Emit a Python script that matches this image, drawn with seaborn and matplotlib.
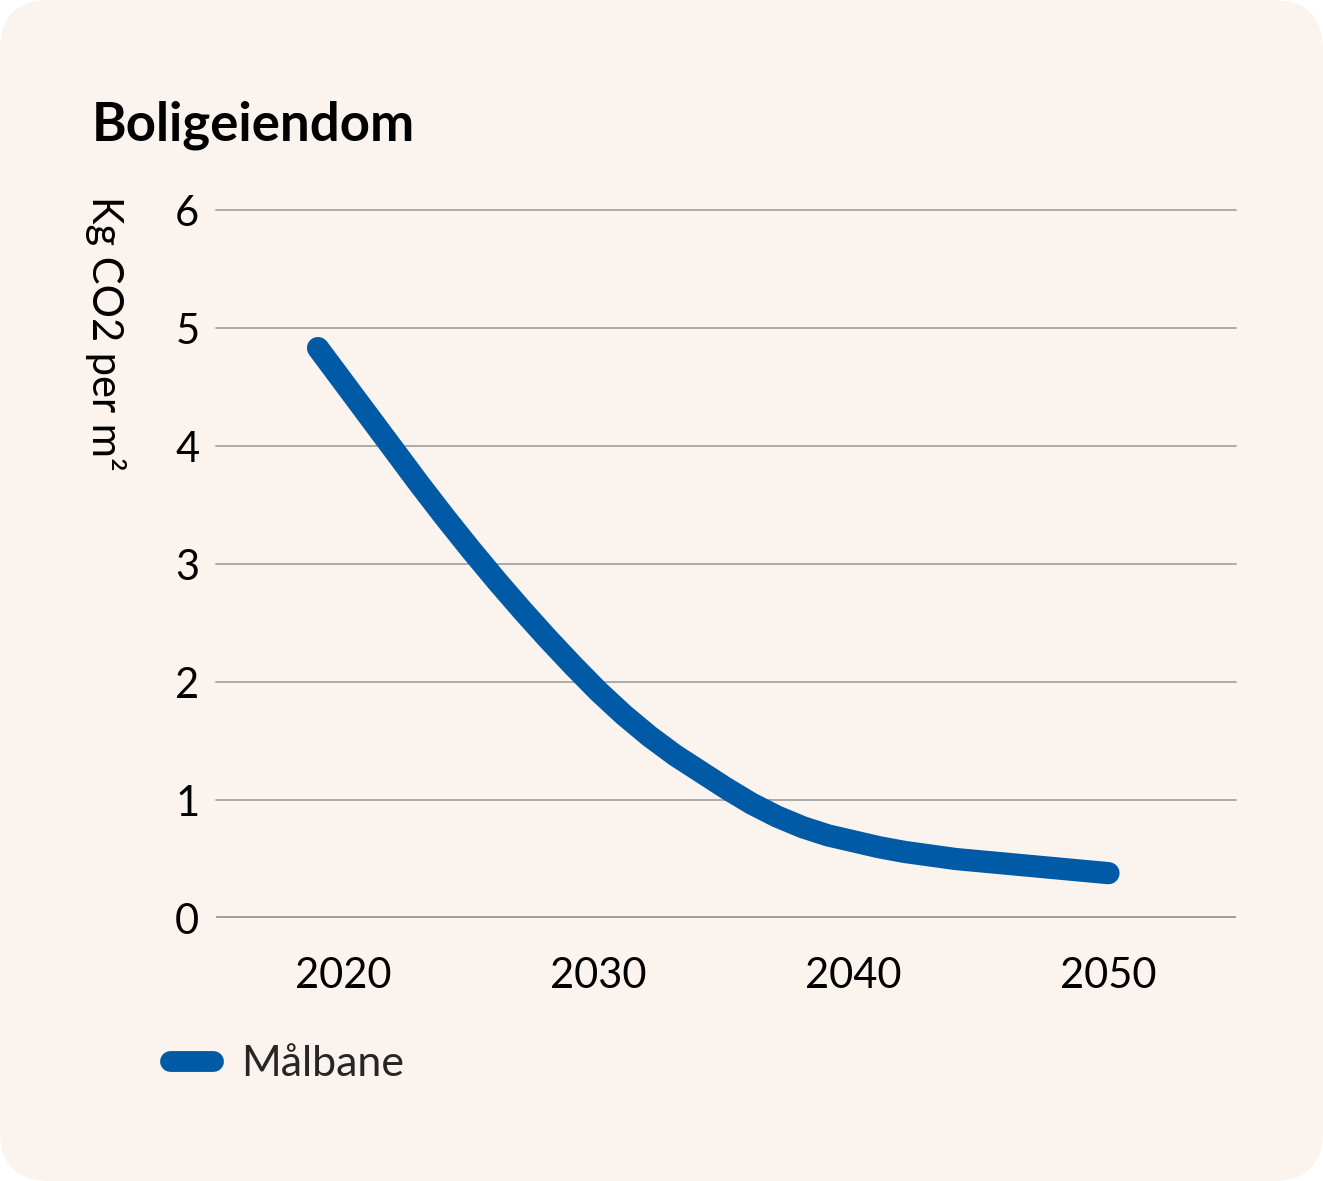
import pandas as pd
import seaborn as sns
import matplotlib.pyplot as plt
from matplotlib.patches import FancyBboxPatch

# Data
years = [2019, 2020, 2021, 2022, 2023, 2024, 2025, 2026, 2027, 2028, 2029,
         2030, 2031, 2032, 2033, 2034, 2035, 2036, 2037, 2038, 2039, 2040,
         2041, 2042, 2043, 2044, 2045, 2046, 2047, 2048, 2049, 2050]
values = [4.83, 4.54, 4.25, 3.96, 3.67, 3.39, 3.12, 2.86, 2.61, 2.37, 2.14,
          1.92, 1.72, 1.54, 1.38, 1.24, 1.10, 0.97, 0.86, 0.77, 0.70, 0.65,
          0.60, 0.56, 0.53, 0.50, 0.48, 0.46, 0.44, 0.42, 0.40, 0.38]
x_ticks = [2020, 2030, 2040, 2050]
y_ticks = [0, 1, 2, 3, 4, 5, 6]
series_name = "Målbane"

title = "Boligeiendom"
y_label = "Kg CO2 per m²"

bg = "#FAF3EE"
blue = "#005AA5"
grid_col = "#A5A5A5"

df = pd.DataFrame({"Year": years, "Value": values})

sns.set_theme(style="white")
plt.rcParams["font.family"] = ["Lato", "DejaVu Sans"]

W, H, DPI = 1323, 1181, 100
fig = plt.figure(figsize=(W / DPI, H / DPI), dpi=DPI, facecolor="white")

# rounded card background
card = FancyBboxPatch((0, 0), W, H, boxstyle="round,pad=0,rounding_size=50",
                      transform=None, facecolor=bg, edgecolor="none", zorder=-10)
fig.patches.append(card)

ax = fig.add_axes([216 / W, 1 - 918 / H, (1236 - 216) / W, (918 - 210) / H])
ax.set_facecolor("none")

sns.lineplot(data=df, x="Year", y="Value", ax=ax, color=blue, linewidth=16,
             label=series_name, solid_capstyle="round", solid_joinstyle="round",
             zorder=3)

ax.set_xlim(2015, 2055)
ax.set_ylim(0, 6)
ax.set_xticks(x_ticks)
ax.set_yticks(y_ticks)
ax.tick_params(axis="both", length=0, labelsize=30, labelcolor="black")
ax.tick_params(axis="y", pad=12)
ax.tick_params(axis="x", pad=28)
ax.set_xlabel("")
ax.set_ylabel("")

# gridlines
for v in y_ticks[1:]:
    ax.axhline(v, color=grid_col, linewidth=1.3, zorder=1, clip_on=False)
ax.axhline(0, color="#9E9E9E", linewidth=3.5, zorder=2)

for s in ax.spines.values():
    s.set_visible(False)

# title and y label
fig.text(92 / W, 1 - 140 / H, title, fontsize=38, fontweight="bold",
         color="black", ha="left", va="baseline")
fig.text(105 / W, 1 - 196 / H, y_label, fontsize=30, rotation=270,
         color="black", ha="center", va="top")

# legend
handles, labels = ax.get_legend_handles_labels()
ax.get_legend().remove()
leg = fig.legend(handles, labels, loc="center left",
                 bbox_to_anchor=(170 / W, 1 - 1064 / H), frameon=False,
                 fontsize=31, handlelength=1.0, handletextpad=0.65,
                 borderaxespad=0, borderpad=0)
for ln in leg.get_lines():
    ln.set_linewidth(15)
    ln.set_solid_capstyle("round")

fig.savefig("out.png", dpi=DPI, facecolor="white")
